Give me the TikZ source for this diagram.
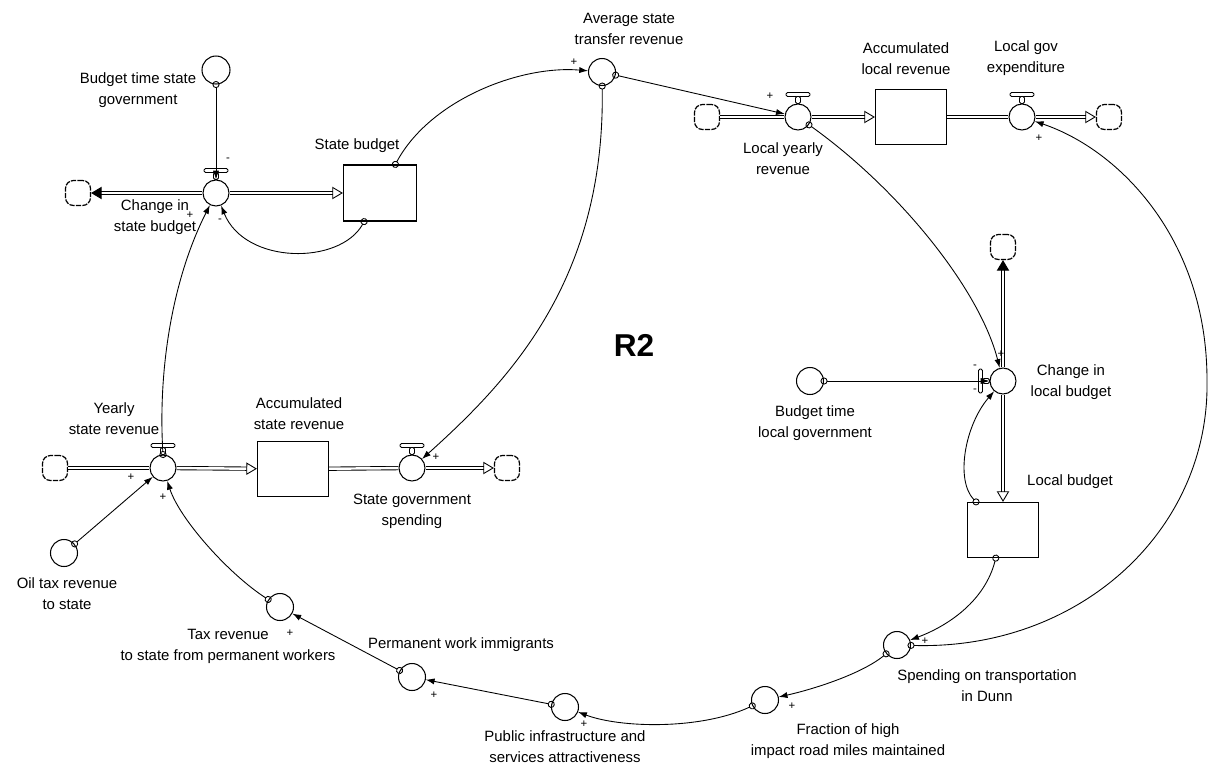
\documentclass[tikz,border=0pt]{standalone}
\usepackage{fontspec}
\setmainfont{Liberation Sans}
\usetikzlibrary{arrows.meta}

\begin{document}
\begin{tikzpicture}[x=0.02cm, y=-0.02cm,
    every node/.style={font=\fontsize{8.5}{11.9}\selectfont},
    aux/.style={circle, draw, line width=0.6pt, minimum size=0.54cm, inner sep=0pt},
    valve/.style={circle, draw, line width=0.6pt, minimum size=0.52cm, inner sep=0pt},
    stock/.style={draw, line width=0.7pt, minimum width=1.42cm, minimum height=1.1cm, inner sep=0pt},
    cld/.style={draw, line width=0.7pt, rounded corners=4.5pt, dash pattern=on 3pt off 0.7pt, minimum size=0.5cm, inner sep=0pt},
    pipe/.style={line width=0.5pt, double, double distance=1.4pt},
    tohollow/.style={-{Triangle[open, length=6pt, width=7pt, line width=0.5pt]}},
    tofilled/.style={-{Triangle[length=6pt, width=7pt, line width=0.5pt]}},
    link/.style={line width=0.5pt, {Circle[open, length=4pt, width=4pt]}-{Latex[length=5pt, width=3.5pt]}, shorten <=-2pt},
    bar/.style={draw, fill=white, line width=0.5pt, rounded corners=0.8pt},
    pol/.style={font=\fontsize{6.5}{7}\selectfont, inner sep=0pt},
    lbl/.style={align=center, inner sep=0pt},
  ]
  \useasboundingbox (0,0) rectangle (1208,765);

  % ストック
  \node[stock, minimum width=1.46cm, minimum height=1.12cm] (sb) at (380,193) {};
  \node[stock] (alr) at (911,117) {};
  \node[stock] (lb) at (1003,530) {};
  \node[stock] (asr) at (293,469) {};

  % バルブ
  \node[valve] (csb) at (216,193) {};
  \node[valve] (lyr) at (798,117) {};
  \node[valve] (lge) at (1022,117) {};
  \node[valve] (clb) at (1003,381) {};
  \node[valve] (ysr) at (163,468) {};
  \node[valve] (sgs) at (412,468) {};

  % 雲
  \node[cld] (c1) at (78,193) {};
  \node[cld] (c2) at (707,117) {};
  \node[cld] (c3) at (1109,117) {};
  \node[cld] (c4) at (1003,247) {};
  \node[cld] (c5) at (55,468) {};
  \node[cld] (c6) at (507,468) {};

  % 補助変数
  \node[aux, minimum size=0.56cm] (btsg) at (216,70) {};
  \node[aux] (avg) at (602,72) {};
  \node[aux] (btlg) at (810,381) {};
  \node[aux] (oil) at (64,553) {};
  \node[aux] (trev) at (280,607) {};
  \node[aux] (pwi) at (412,677) {};
  \node[aux] (pia) at (565,707) {};
  \node[aux] (frac) at (765,700) {};
  \node[aux] (ssp) at (897,645) {};

  % 流れ
  \draw[pipe, tofilled] (csb) -- (c1);
  \draw[pipe, tohollow] (csb) -- (sb);
  \draw[pipe] (c2) -- (lyr);
  \draw[pipe, tohollow] (lyr) -- (alr);
  \draw[pipe] (alr) -- (lge);
  \draw[pipe, tohollow] (lge) -- (c3);
  \draw[pipe, tofilled] (clb) -- (c4);
  \draw[pipe, tohollow] (clb) -- (lb);
  \draw[pipe] (c5) -- (ysr);
  \draw[pipe, tohollow] (ysr) -- (asr);
  \draw[pipe] (asr) -- (sgs);
  \draw[pipe, tohollow] (sgs) -- (c6);

  % バルブの取っ手
  \draw[bar] ([shift={(-12,-11)}]csb.north) rectangle ([shift={(12,-7)}]csb.north);
  \draw[bar] ([shift={(-2.5,-7)}]csb.north) rectangle ([shift={(2.5,0)}]csb.north);
  \draw[bar] ([shift={(-12,-11)}]lyr.north) rectangle ([shift={(12,-7)}]lyr.north);
  \draw[bar] ([shift={(-2.5,-7)}]lyr.north) rectangle ([shift={(2.5,0)}]lyr.north);
  \draw[bar] ([shift={(-12,-11)}]lge.north) rectangle ([shift={(12,-7)}]lge.north);
  \draw[bar] ([shift={(-2.5,-7)}]lge.north) rectangle ([shift={(2.5,0)}]lge.north);
  \draw[bar] ([shift={(-12,-11)}]ysr.north) rectangle ([shift={(12,-7)}]ysr.north);
  \draw[bar] ([shift={(-2.5,-7)}]ysr.north) rectangle ([shift={(2.5,0)}]ysr.north);
  \draw[bar] ([shift={(-12,-11)}]sgs.north) rectangle ([shift={(12,-7)}]sgs.north);
  \draw[bar] ([shift={(-2.5,-7)}]sgs.north) rectangle ([shift={(2.5,0)}]sgs.north);
  \draw[bar] ([shift={(-11,-12)}]clb.west) rectangle ([shift={(-7,12)}]clb.west);
  \draw[bar] ([shift={(-7,-2.5)}]clb.west) rectangle ([shift={(0,2.5)}]clb.west);

  % 因果リンク
  \draw[link] (btsg) -- (csb);
  \draw[link] (sb) .. controls (340,265) and (245,265) .. (csb);
  \draw[link] (ysr.north) .. controls (158,370) and (172,280) .. (csb);
  \draw[link] (sb) .. controls (430,100) and (520,65) .. (avg);
  \draw[link] (avg) -- (lyr);
  \draw[link] (avg) .. controls (605,280) and (510,380) .. (sgs);
  \draw[link] (lyr) .. controls (900,190) and (980,290) .. (clb);
  \draw[link] (btlg) -- (clb);
  \draw[link] (lb) .. controls (955,480) and (965,425) .. (clb);
  \draw[link] (lb) .. controls (985,600) and (950,625) .. (ssp);
  \draw[link] (ssp) .. controls (1080,650) and (1210,530) .. (1207,380)
    .. controls (1207,240) and (1120,150) .. (lge);
  \draw[link] (ssp) .. controls (860,675) and (810,690) .. (frac);
  \draw[link] (frac) .. controls (700,730) and (620,728) .. (pia);
  \draw[link] (pia) -- (pwi);
  \draw[link] (pwi) -- (trev);
  \draw[link] (trev) .. controls (230,575) and (180,520) .. (ysr);
  \draw[link] (oil) -- (ysr);

  % 極性
  \node[pol] (p1) at (228,160) {-};
  \node[pol] (p2) at (220,221) {-};
  \node[pol] (p3) at (190,215) {+};
  \node[pol] (p4) at (574,62) {+};
  \node[pol] (p5) at (770,96) {+};
  \node[pol] (p6) at (436,457) {+};
  \node[pol] (p7) at (1001,354) {+};
  \node[pol] (p8) at (975,367) {-};
  \node[pol] (p9) at (975,391) {-};
  \node[pol] (p10) at (925,641) {+};
  \node[pol] (p11) at (1039,138) {+};
  \node[pol] (p12) at (792,706) {+};
  \node[pol] (p13) at (584,724) {+};
  \node[pol] (p14) at (434,695) {+};
  \node[pol] (p15) at (290,633) {+};
  \node[pol] (p16) at (163,497) {+};
  \node[pol] (p17) at (131,477) {+};

  % ラベル
  \node[lbl] (btsgL) at (138,90) {Budget time state\\government};
  \node[lbl] (csbL) at (155,217) {Change in\\state budget};
  \node[lbl] (sbL) at (357,146) {State budget};
  \node[lbl] (avgL) at (629,29) {Average state\\transfer revenue};
  \node[lbl] (lyrL) at (783,159) {Local yearly\\revenue};
  \node[lbl] (alrL) at (906,59) {Accumulated\\local revenue};
  \node[lbl] (lgeL) at (1026,58) {Local gov\\expenditure};
  \node[lbl] (clbL) at (1071,382) {Change in\\local budget};
  \node[lbl] (btlgL) at (815,423) {Budget time\\local government};
  \node[lbl] (lbL) at (1070,482) {Local budget};
  \node[lbl] (ysrL) at (114,419) {Yearly\\state revenue};
  \node[lbl] (asrL) at (299,414) {Accumulated\\state revenue};
  \node[lbl] (sgsL) at (412,511) {State government\\spending};
  \node[lbl] (oilL) at (67,594) {Oil tax revenue\\to state};
  \node[lbl] (trevL) at (228,646) {Tax revenue\\to state from permanent workers};
  \node[lbl] (pwiL) at (461,645) {Permanent work immigrants};
  \node[lbl] (piaL) at (565,747) {Public infrastructure and\\services attractiveness};
  \node[lbl] (fracL) at (848,741) {Fraction of high\\impact road miles maintained};
  \node[lbl] (sspL) at (987,686) {Spending on transportation\\in Dunn};
  \node[font=\fontsize{18}{20}\selectfont\bfseries] (r2) at (634,345) {R2};

\end{tikzpicture}
\end{document}
